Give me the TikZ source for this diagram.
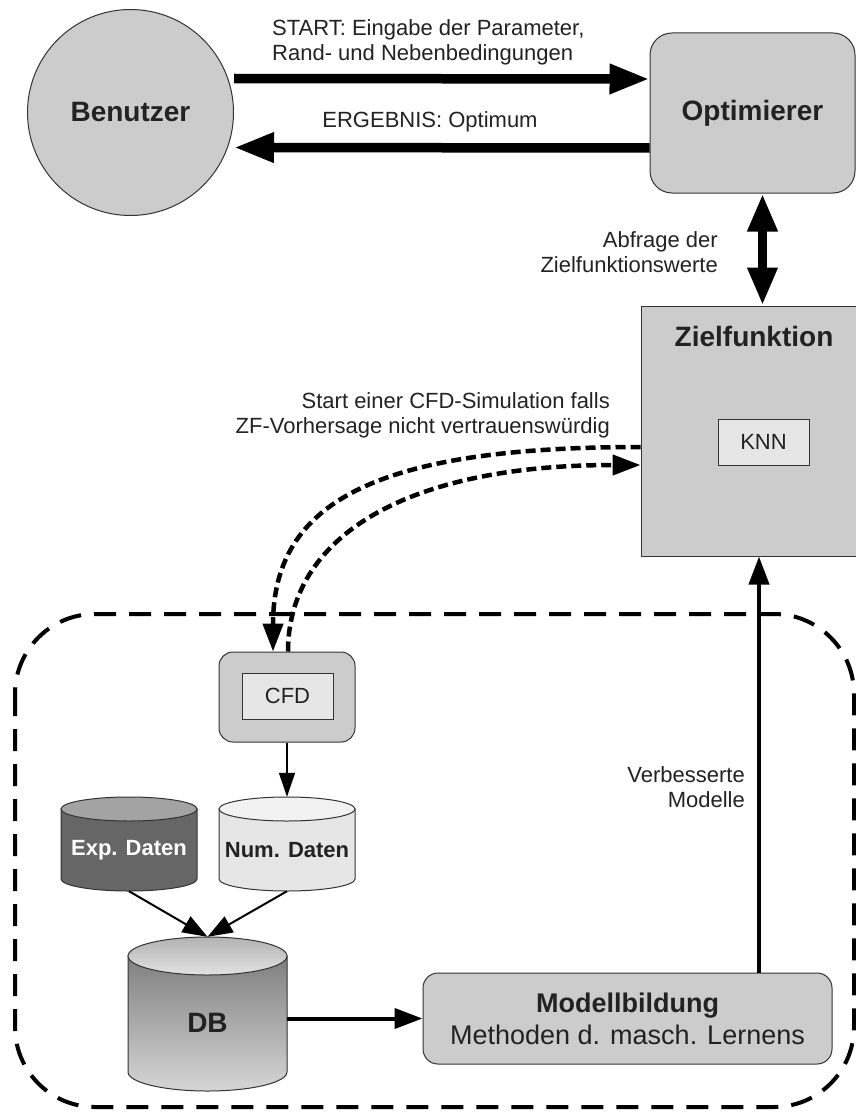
\documentclass[tikz,border=0pt]{standalone}
\usepackage{fontspec}
\setmainfont{Liberation Sans}
\usetikzlibrary{arrows.meta, calc}

\definecolor{boxgray}{HTML}{CCCCCC}
\definecolor{innergray}{HTML}{E6E6E6}
\definecolor{edgegray}{HTML}{333333}
\definecolor{textgray}{HTML}{222222}
\definecolor{expbody}{HTML}{666666}
\definecolor{exptop}{HTML}{A3A3A3}
\definecolor{numbody}{HTML}{E6E6E6}
\definecolor{numtop}{HTML}{F2F2F2}
\definecolor{dbdark}{HTML}{7F7F7F}
\definecolor{dblight}{HTML}{D6D6D6}

\newcommand{\labelsize}{\fontsize{22}{25}\selectfont}
\newcommand{\titlesize}{\fontsize{28}{32}\selectfont\bfseries}

\tikzset{
	block/.style={draw=edgegray, line width=1pt, fill=boxgray, text=textgray, inner sep=0pt},
	inner block/.style={block, fill=innergray, minimum width=91pt, minimum height=46pt, font=\labelsize},
	caption/.style={text=textgray, font=\labelsize, inner sep=0pt},
	fat arrow/.style={line width=9.5pt, -{Triangle[length=40pt, width=28pt]}},
	mid arrow/.style={line width=4pt, -{Triangle[length=28pt, width=20pt]}},
	feed arrow/.style={line width=2pt, -{Triangle[length=25pt, width=18pt]}},
	thin arrow/.style={line width=1.5pt, -{Triangle[length=24pt, width=16pt]}},
	query arrow/.style={line width=4.5pt, dash pattern=on 10pt off 5pt, -{Triangle[length=28pt, width=20pt]}},
	frame/.style={line width=4pt, dash pattern=on 22pt off 13pt, rounded corners=80pt},
}

\begin{document}
\begin{tikzpicture}[x=1pt, y=-1pt]
	\useasboundingbox (0,0) rectangle (856,1113);
	
	% gestrichelter Rahmen um Simulation und Daten
	\draw[frame] (15,614) rectangle (854,1107);
	
	\node[block, circle, minimum size=206pt, font=\titlesize] (benutzer) at (130.5,112.5) {Benutzer};
	\node[block, rounded corners=22pt, minimum width=205pt, minimum height=160pt, font=\titlesize] (optimierer) at (752.5,113) {Optimierer};
	
	\node[block, minimum width=216pt, minimum height=250pt] (ziel) at (749,431) {};
	\node[font=\titlesize, text=textgray] (zieltitel) at (754,336) {Zielfunktion};
	\node[inner block] (knn) at (763.5,442) {KNN};
	
	\node[block, rounded corners=14pt, minimum width=136pt, minimum height=90pt] (cfdbox) at (287,697) {};
	\node[inner block] (cfd) at (287.5,696) {CFD};
	
	% Datenbanken als Zylinder
	\draw[edgegray, line width=1pt, fill=expbody] (61,809) -- (61,879) arc[start angle=180, end angle=0, x radius=68, y radius=12] -- (197,809) -- cycle;
	\draw[edgegray, line width=1pt, fill=exptop] (129,809) ellipse[x radius=68, y radius=12];
	\node[minimum width=136pt, minimum height=94pt, inner sep=0pt] (expdaten) at (129,844) {};
	\node[text=white, font=\labelsize\bfseries] (explabel) at (129,850) {Exp. Daten};
	
	\draw[edgegray, line width=1pt, fill=numbody] (219,809) -- (219,879) arc[start angle=180, end angle=0, x radius=68, y radius=12] -- (355,809) -- cycle;
	\draw[edgegray, line width=1pt, fill=numtop] (287,809) ellipse[x radius=68, y radius=12];
	\node[minimum width=136pt, minimum height=94pt, inner sep=0pt] (numdaten) at (287,844) {};
	\node[text=textgray, font=\labelsize\bfseries] (numlabel) at (287,850) {Num. Daten};
	
	\shadedraw[draw=edgegray, line width=1pt, top color=dbdark, bottom color=dblight] (128,956) -- (128,1072) arc[start angle=180, end angle=0, x radius=79.5, y radius=19] -- (287,956) -- cycle;
	\shadedraw[draw=edgegray, line width=1pt, top color=dbdark!60!white, bottom color=dblight!70!white] (207.5,956) ellipse[x radius=79.5, y radius=19];
	\node[minimum width=159pt, minimum height=154pt, inner sep=0pt] (db) at (207.5,1014) {};
	\node[text=textgray, font=\titlesize] (dblabel) at (207.5,1023) {DB};
	
	\node[block, rounded corners=15pt, minimum width=409pt, minimum height=91pt, align=center, font=\fontsize{27}{32}\selectfont] (modell) at (627.5,1018.5) {\textbf{Modellbildung}\\Methoden d. masch. Lernens};
	
	% Verbindungen
	\draw[fat arrow] ([yshift=34pt]benutzer.east) -- ([yshift=34pt]optimierer.west);
	\draw[fat arrow] ([yshift=-35pt]optimierer.west) -- ([yshift=-35pt]benutzer.east);
	\draw[fat arrow, {Triangle[length=38pt, width=28pt]}-{Triangle[length=38pt, width=28pt]}] ([xshift=10pt]optimierer.south) -- ([xshift=10pt]optimierer.south |- ziel.north);
	
	\draw[query arrow] ([yshift=-16pt]ziel.west) .. controls (380,447) and (273,500) .. ([xshift=-14pt]cfdbox.north);
	\draw[query arrow] ([xshift=1pt]cfdbox.north) .. controls (288,540) and (400,465) .. ([yshift=-34pt]ziel.west);
	
	\draw[thin arrow] (cfdbox.south) -- (numdaten.north);
	\draw[feed arrow] (expdaten.south) -- (db.north);
	\draw[feed arrow] (numdaten.south) -- (db.north);
	\draw[mid arrow] (db.east |- modell.west) -- (modell.west);
	\draw[mid arrow] ([xshift=131.5pt]modell.north) -- ([xshift=131.5pt]modell.north |- ziel.south);
	
	% Beschriftungen
	\node[caption, anchor=north west, align=left] (startlabel) at (272,19) {START: Eingabe der Parameter,\\Rand- und Nebenbedingungen};
	\node[caption] (ergebnislabel) at (430,122) {ERGEBNIS: Optimum};
	\node[caption, anchor=north east, align=right] (abfragelabel) at (718,231) {Abfrage der\\Zielfunktionswerte};
	\node[caption, anchor=north east, align=right] (cfdlabel) at (610,392) {Start einer CFD-Simulation falls\\ZF-Vorhersage nicht vertrauenswürdig};
	\node[caption, anchor=north east, align=right] (modelllabel) at (745,766) {Verbesserte\\Modelle};
\end{tikzpicture}
\end{document}
